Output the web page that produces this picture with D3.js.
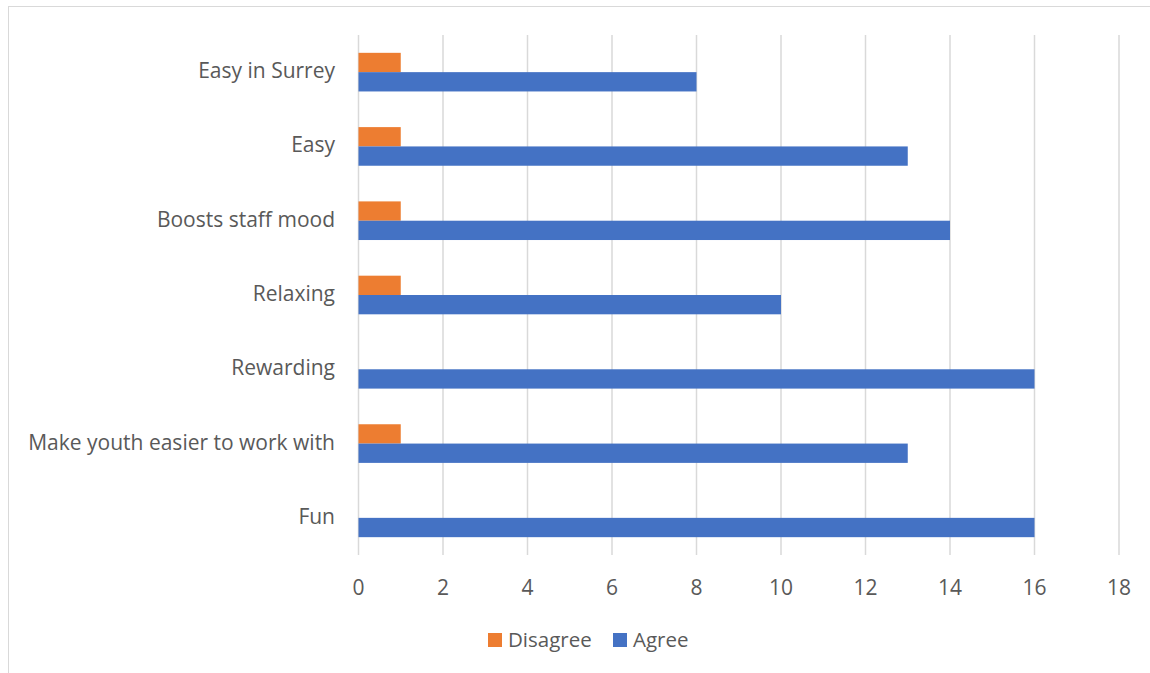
<!DOCTYPE html>
<html>
<head>
<meta charset="utf-8">
<script src="https://cdn.jsdelivr.net/npm/d3@7"></script>
<style>
  body { margin: 0; background: #fff; }
  text { font-family: "Open Sans", "Noto Sans", sans-serif; fill: #595959; }
</style>
</head>
<body>
<svg id="chart"></svg>
<script>
// data, top to bottom as shown
const categories = ["Easy in Surrey", "Easy", "Boosts staff mood", "Relaxing", "Rewarding", "Make youth easier to work with", "Fun"];
const disagree = [1, 1, 1, 1, 0, 1, 0];
const agree = [8, 13, 14, 10, 16, 13, 16];
const seriesNames = ["Disagree", "Agree"];
const xTicks = [0, 2, 4, 6, 8, 10, 12, 14, 16, 18];

const width = 1150, height = 673;
const colors = { Disagree: "#ED7D31", Agree: "#4472C4" };

const svg = d3.select("#chart")
    .attr("width", width)
    .attr("height", height);

// chart border
svg.append("rect")
    .attr("x", 8.5).attr("y", 6.5)
    .attr("width", width + 10).attr("height", height + 10)
    .attr("fill", "none")
    .attr("stroke", "#D9D9D9");

const x = d3.scaleLinear().domain([0, 18]).range([358.5, 1119]);
const y = d3.scaleBand().domain(categories).range([35, 555]).paddingInner(0.48).paddingOuter(0.24);
const ySub = d3.scaleBand().domain(seriesNames).range([0, y.bandwidth()]);

// gridlines
svg.append("g")
    .selectAll("line")
    .data(xTicks)
    .enter().append("line")
    .attr("x1", d => x(d)).attr("x2", d => x(d))
    .attr("y1", 35).attr("y2", 555)
    .attr("stroke", "#D9D9D9")
    .attr("stroke-width", 1.5);

// bars
const rows = categories.map((c, i) => ({ cat: c, Disagree: disagree[i], Agree: agree[i] }));
const groups = svg.append("g")
    .selectAll("g")
    .data(rows)
    .enter().append("g")
    .attr("transform", d => `translate(0,${y(d.cat)})`);

groups.selectAll("rect")
    .data(d => seriesNames.map(s => ({ s: s, v: d[s] })).filter(e => e.v > 0))
    .enter().append("rect")
    .attr("x", x(0))
    .attr("y", d => ySub(d.s))
    .attr("width", d => x(d.v) - x(0))
    .attr("height", ySub.bandwidth())
    .attr("fill", d => colors[d.s]);

// category labels
svg.append("g")
    .selectAll("text")
    .data(categories)
    .enter().append("text")
    .attr("x", 335)
    .attr("y", d => y(d) + y.bandwidth() / 2 + 6)
    .attr("text-anchor", "end")
    .attr("font-size", 21)
    .text(d => d);

// x tick labels
svg.append("g")
    .selectAll("text")
    .data(xTicks)
    .enter().append("text")
    .attr("x", d => x(d))
    .attr("y", 595)
    .attr("text-anchor", "middle")
    .attr("font-size", 21)
    .text(d => d);

// legend
const legendX = [488, 613];
const legend = svg.append("g")
    .selectAll("g")
    .data(seriesNames)
    .enter().append("g")
    .attr("transform", (d, i) => `translate(${legendX[i]},633)`);

legend.append("rect")
    .attr("width", 14).attr("height", 14)
    .attr("fill", d => colors[d]);

legend.append("text")
    .attr("x", 20).attr("y", 14)
    .attr("font-size", 20.5)
    .text(d => d);
</script>
</body>
</html>
